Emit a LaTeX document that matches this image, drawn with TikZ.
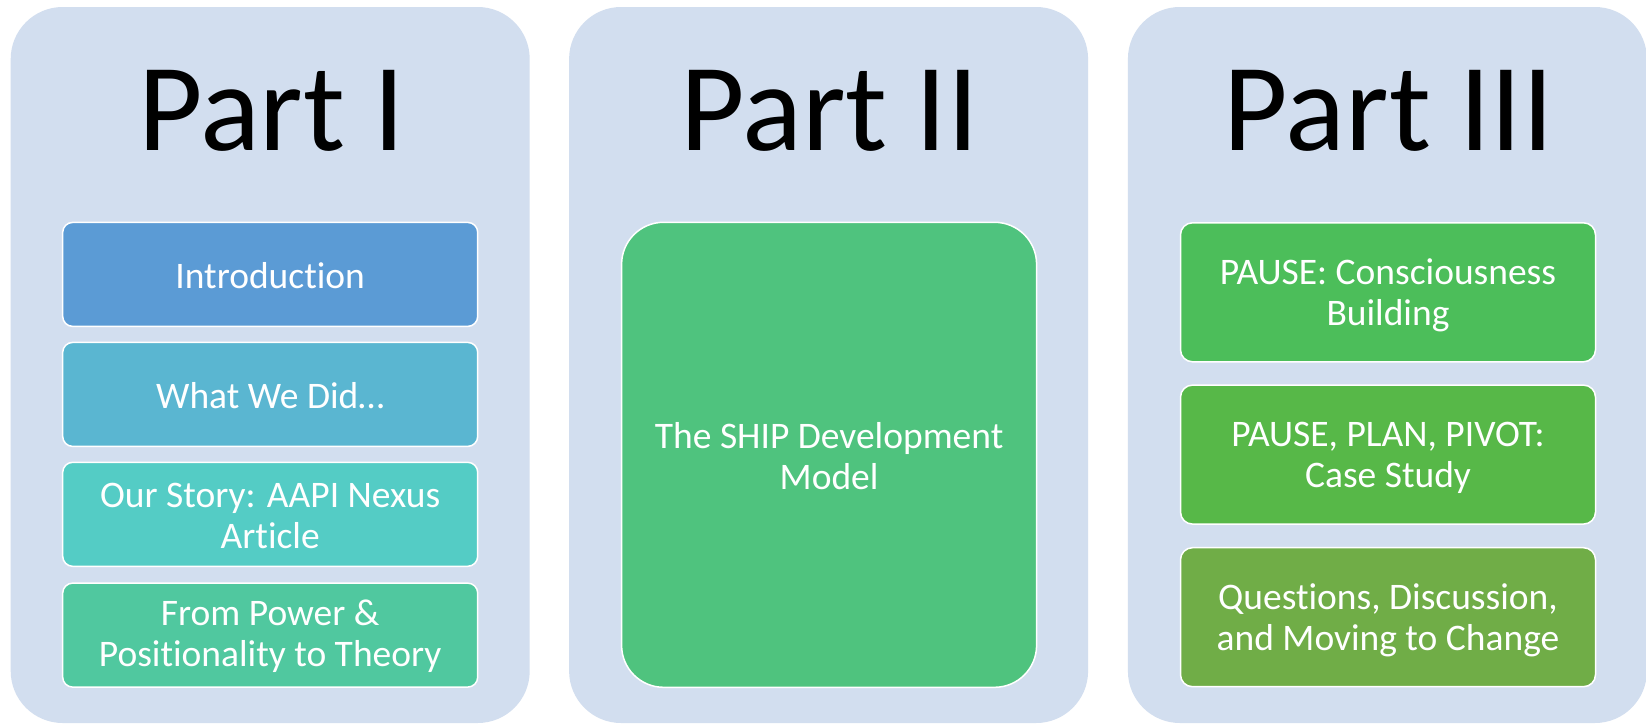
\documentclass[tikz,border=0pt]{standalone}
\usepackage{fontspec}
\setmainfont{Carlito}[Ligatures={NoCommon,NoRequired,NoContextual},Contextuals={NoAlternate}]
\definecolor{panelbg}{HTML}{D2DEEF}
\definecolor{cIntro}{HTML}{5B9BD5}
\definecolor{cDid}{HTML}{5AB6D1}
\definecolor{cStory}{HTML}{54CCC5}
\definecolor{cPower}{HTML}{50C89F}
\definecolor{cShip}{HTML}{4FC37E}
\definecolor{cPause}{HTML}{4CBE5A}
\definecolor{cPlan}{HTML}{57B848}
\definecolor{cQuest}{HTML}{70AD47}
\tikzset{
  panel/.style={fill=panelbg, draw=none, rounded corners=52pt, minimum width=519pt, minimum height=716pt, inner sep=0pt},
  title/.style={anchor=base, font=\fontsize{125}{130}\selectfont, text=black, inner sep=0pt},
  itembox/.style={draw=white, line width=1.5pt, minimum width=415pt, inner sep=0pt},
  smallbox/.style={itembox, rounded corners=10pt, minimum height=104pt},
  bigbox/.style={itembox, rounded corners=12pt, minimum height=139pt},
  shipbox/.style={itembox, rounded corners=42pt, minimum height=465pt},
  lbl/.style={text=white, align=center, inner sep=0pt, font=\fontsize{37.5}{41}\selectfont}
}
\begin{document}
\begin{tikzpicture}[x=1pt, y=-1pt]
\useasboundingbox (0,0) rectangle (1646,723);
\fill[white] (0,0) rectangle (1646,723);
% panels
\node[panel] (p1) at (270.2,365) {};
\node[panel] (p2) at (828.6,365) {};
\node[panel] (p3) at (1387.4,365) {};
% titles
\node[title] (t1) at (271.5,150) {Part I};
\node[title] (t2) at (829.5,150) {Part II};
\node[title] (t3) at (1388.5,150) {Part III};
% Part I items
\node[smallbox, fill=cIntro] (b1) at (270.2,274.4) {};
\node[lbl] (b1t) at ([yshift=-1.5pt]b1.center) {Introduction};
\node[smallbox, fill=cDid] (b2) at (270.2,394.4) {};
\node[lbl] (b2t) at ([yshift=-1.5pt]b2.center) {What We Did…};
\node[smallbox, fill=cStory] (b3) at (270.2,514.3) {};
\node[lbl] (b3t) at ([yshift=-1.5pt]b3.center) {Our Story: AAPI Nexus\\Article};
\node[smallbox, fill=cPower] (b4) at (270.2,635.1) {};
\node[lbl] (b4t) at ([yshift=-1.5pt]b4.center) {From Power \&\\Positionality to Theory};
% Part II item
\node[shipbox, fill=cShip] (s1) at (829.1,454.8) {};
\node[lbl] (s1t) at ([yshift=-1pt]s1.center) {The SHIP Development\\Model};
% Part III items
\node[bigbox, fill=cPause] (c1) at (1388,292.3) {};
\node[lbl] (c1t) at ([yshift=-3.5pt]c1.center) {PAUSE: Consciousness\\Building};
\node[bigbox, fill=cPlan] (c2) at (1388,454.6) {};
\node[lbl] (c2t) at ([yshift=-3.5pt]c2.center) {PAUSE, PLAN, PIVOT:\\Case Study};
\node[bigbox, fill=cQuest] (c3) at (1388,617.2) {};
\node[lbl] (c3t) at ([yshift=-3pt]c3.center) {Questions, Discussion,\\and Moving to Change};
\end{tikzpicture}
\end{document}
